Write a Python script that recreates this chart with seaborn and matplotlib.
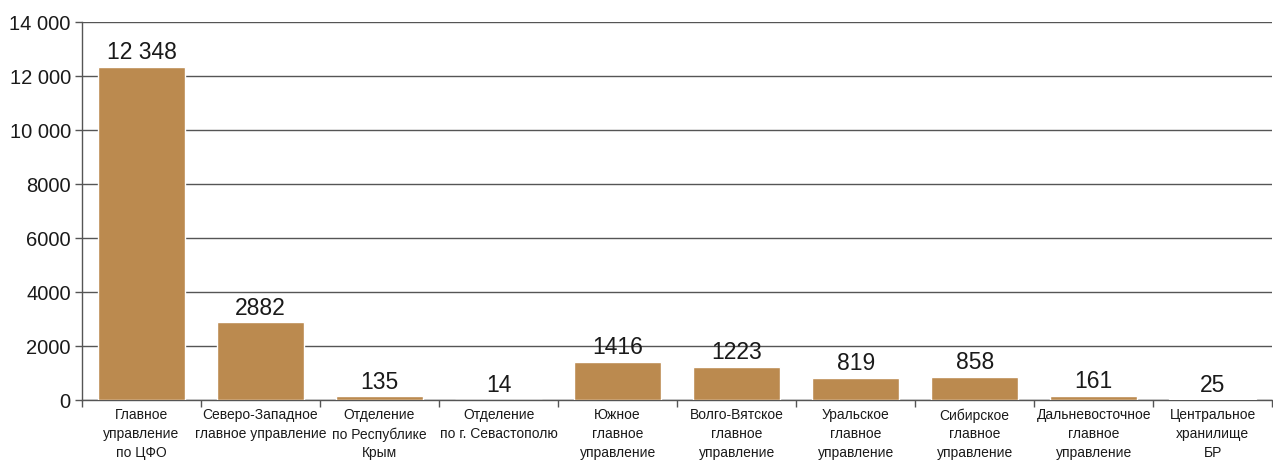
import matplotlib
matplotlib.use("Agg")
import matplotlib.pyplot as plt
import matplotlib.ticker as mticker
import numpy as np
import pandas as pd
import seaborn as sns

categories = [
    "Главное\nуправление\nпо ЦФО",
    "Северо-Западное\nглавное управление",
    "Отделение\nпо Республике\nКрым",
    "Отделение\nпо г. Севастополю",
    "Южное\nглавное\nуправление",
    "Волго-Вятское\nглавное\nуправление",
    "Уральское\nглавное\nуправление",
    "Сибирское\nглавное\nуправление",
    "Дальневосточное\nглавное\nуправление",
    "Центральное\nхранилище\nБР",
]
values = [12348, 2882, 135, 14, 1416, 1223, 819, 858, 161, 25]
y_ticks = [0, 2000, 4000, 6000, 8000, 10000, 12000, 14000]

BAR_COLOR = "#BB8A4F"
GRID_COLOR = "#555555"


def fmt_num(v, pos=None):
    v = int(round(v))
    if v >= 10000:
        return f"{v:,}".replace(",", " ")
    return str(v)


sns.set_theme(style="white")
plt.rcParams["font.family"] = ["Liberation Sans", "DejaVu Sans"]

df = pd.DataFrame({"category": categories, "value": values})

fig = plt.figure(figsize=(12.73, 4.62), dpi=100)
ax = fig.add_axes([0.0644, 0.134, 0.935, 0.818])

sns.barplot(data=df, x="category", y="value", color=BAR_COLOR, width=0.73,
            saturation=1, ax=ax, zorder=3)

ax.set_ylim(0, 14000)
ax.set_xlim(-0.5, len(categories) - 0.5)
ax.set_yticks(y_ticks)
ax.yaxis.set_major_formatter(mticker.FuncFormatter(fmt_num))
ax.yaxis.grid(True, color=GRID_COLOR, linewidth=1.0, zorder=0)
ax.set_axisbelow(True)

for sp in ["top", "right"]:
    ax.spines[sp].set_visible(False)
ax.spines["left"].set_color(GRID_COLOR)
ax.spines["bottom"].set_color(GRID_COLOR)
ax.spines["left"].set_linewidth(1.0)
ax.spines["bottom"].set_linewidth(1.0)

ax.tick_params(axis="y", left=True, length=5, width=1, color=GRID_COLOR,
               labelsize=14.5, labelcolor="#1a1a1a", pad=3)
ax.tick_params(axis="x", which="major", bottom=False, length=0,
               labelsize=10, labelcolor="#1a1a1a", pad=6)
ax.set_xticks(np.arange(-0.5, len(categories), 1.0), minor=True)
ax.tick_params(axis="x", which="minor", bottom=True, length=5, width=1,
               color=GRID_COLOR)
for lbl in ax.get_xticklabels():
    lbl.set_linespacing(1.42)
    lbl.set_verticalalignment("top")

ax.set_xlabel("")
ax.set_ylabel("")

for i, v in enumerate(values):
    ax.annotate(fmt_num(v), (i, v), xytext=(0, 2), textcoords="offset points",
                ha="center", va="bottom", fontsize=16.5, color="#1a1a1a")

fig.savefig("out.png", dpi=100, facecolor="white")
